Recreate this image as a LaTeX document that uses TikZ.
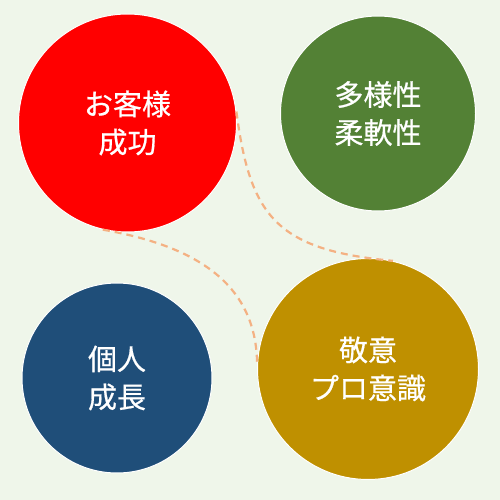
\documentclass[tikz,border=0pt]{standalone}
\usepackage{fontspec}
\newfontfamily\jpfont[FakeBold=0.6]{Noto Sans CJK JP}
\definecolor{bgtint}{HTML}{EFF6EA}
\definecolor{c-red}{HTML}{FF0000}
\definecolor{c-green}{HTML}{538135}
\definecolor{c-blue}{HTML}{1F4E79}
\definecolor{c-gold}{HTML}{BF9000}
\definecolor{c-dash}{HTML}{F4B183}
\tikzset{
  bubble/.style={circle, draw=white, line width=1pt, inner sep=0pt,
    text=white, align=center,
    font=\jpfont\fontsize{29}{38}\selectfont},
  linkline/.style={draw=c-dash, line width=2.2pt, dash pattern=on 7pt off 5pt}
}
\begin{document}
\begin{tikzpicture}[x=1pt, y=-1pt]
  \fill[bgtint] (0,0) rectangle (500,500);
  \useasboundingbox (0,0) rectangle (500,500);

  % value bubbles
  \node[bubble, fill=c-red,   minimum size=218pt] (red)   at (127.5,123) {お客様\\成功};
  \node[bubble, fill=c-green, minimum size=195pt] (green) at (378,113.5) {多様性\\柔軟性};
  \node[bubble, fill=c-blue,  minimum size=190pt] (blue)  at (117,378)   {個人\\成長};
  \node[bubble, fill=c-gold,  minimum size=221pt] (gold)  at (368,369)   {敬意\\プロ意識};

  % dashed links between the bubbles
  \draw[linkline] (red.6) .. controls (250,215) and (275,250) .. (gold.77);
  \draw[linkline] (red.257) .. controls (190,245) and (257,280) .. (gold.178);
\end{tikzpicture}
\end{document}
